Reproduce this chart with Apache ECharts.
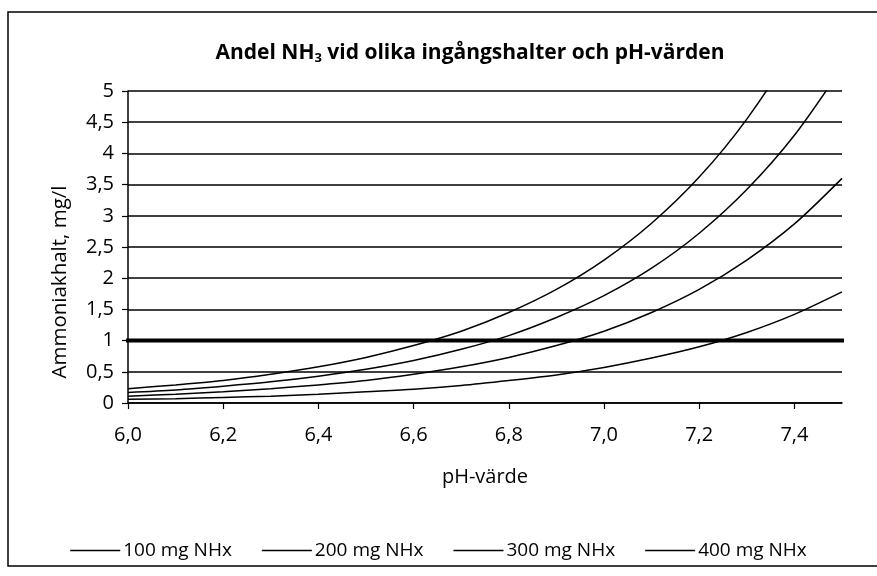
<!DOCTYPE html>
<html>
<head>
<meta charset="utf-8">
<script src="https://cdn.jsdelivr.net/npm/echarts@6/dist/echarts.min.js"></script>
<style>html,body{margin:0;padding:0;background:#fff}#c{width:877px;height:576px}</style>
</head>
<body>
<div id="c"></div>
<script>
const phValues = [6.0, 6.1, 6.2, 6.3, 6.4, 6.5, 6.6, 6.7, 6.8, 6.9, 7.0, 7.1, 7.2, 7.3, 7.4, 7.5];
const nh100 = [0.06, 0.07, 0.09, 0.11, 0.14, 0.18, 0.22, 0.28, 0.36, 0.45, 0.57, 0.72, 0.90, 1.13, 1.42, 1.78];
const nh200 = [0.11, 0.14, 0.18, 0.23, 0.29, 0.36, 0.46, 0.58, 0.73, 0.92, 1.15, 1.45, 1.82, 2.29, 2.87, 3.60];
const nh300 = [0.17, 0.21, 0.27, 0.34, 0.43, 0.54, 0.68, 0.86, 1.08, 1.37, 1.72, 2.16, 2.72, 3.42, 4.29, 5.38];
const nh400 = [0.23, 0.29, 0.36, 0.46, 0.58, 0.73, 0.92, 1.15, 1.45, 1.82, 2.29, 2.88, 3.62, 4.55, 5.72, 7.17];
const seriesNames = ['100 mg NHx', '200 mg NHx', '300 mg NHx', '400 mg NHx'];
const limitX = [5.985, 7.545];
const limitY = [1, 1];
const xTicks = [6.0, 6.2, 6.4, 6.6, 6.8, 7.0, 7.2, 7.4];

const FONT = 'Open Sans';
const fmt = (v, d) => (d == null ? String(+v.toFixed(2)) : v.toFixed(d)).replace('.', ',');
const pair = arr => phValues.map((x, i) => [x, arr[i]]);
const curves = [nh100, nh200, nh300, nh400];

const chart = echarts.init(document.getElementById('c'), null, {renderer: 'canvas'});
chart.setOption({
  backgroundColor: '#fff',
  animation: false,
  textStyle: {fontFamily: FONT, color: '#000'},
  graphic: [{
    type: 'rect', shape: {x: 8, y: 12, width: 880, height: 554},
    style: {fill: 'none', stroke: '#000', lineWidth: 1.5}, silent: true, z: -1
  }],
  title: {
    text: 'Andel NH{sub|3} vid olika ingångshalter och pH-värden',
    left: 465, top: 37, textAlign: 'center',
    textStyle: {
      fontFamily: FONT, fontWeight: 'bold', fontSize: 21, color: '#000',
      rich: {sub: {fontFamily: FONT, fontWeight: 'bold', fontSize: 13, verticalAlign: 'bottom', padding: [10, 0, 0, 0], color: '#000'}}
    }
  },
  legend: {
    show: true, type: 'plain', orient: 'horizontal', icon: 'rect',
    data: seriesNames, top: 536, left: 'center', itemWidth: 50, itemHeight: 1.5, itemGap: 30,
    textStyle: {fontFamily: FONT, fontSize: 19, color: '#000', padding: [0, 0, 0, -2]}
  },
  grid: {left: 128, right: 35, top: 91, bottom: 173, containLabel: false},
  xAxis: {
    type: 'value', min: 6.0, max: 7.5, interval: 0.2,
    name: 'pH-värde', nameLocation: 'middle', nameGap: 64,
    nameTextStyle: {fontFamily: FONT, fontSize: 20, color: '#000'},
    axisLine: {show: true, onZero: false, lineStyle: {color: '#000', width: 1.5}},
    axisTick: {show: true, length: 6, customValues: xTicks, lineStyle: {color: '#000', width: 1.2}},
    axisLabel: {customValues: xTicks, margin: 22, fontFamily: FONT, fontSize: 20, color: '#000', formatter: v => fmt(v, 1)},
    splitLine: {show: false}
  },
  yAxis: {
    type: 'value', min: 0, max: 5, interval: 0.5,
    name: 'Ammoniakhalt, mg/l', nameLocation: 'middle', nameGap: 57,
    nameTextStyle: {fontFamily: FONT, fontSize: 20.5, color: '#000', padding: [0, 70, 0, 0]},
    axisLine: {show: true, lineStyle: {color: '#000', width: 1.5}},
    axisTick: {show: true, length: 6, lineStyle: {color: '#000', width: 1.2}},
    axisLabel: {margin: 14, fontFamily: FONT, fontSize: 20, color: '#000', formatter: v => fmt(v)},
    splitLine: {show: true, lineStyle: {color: '#000', width: 1.5}}
  },
  series: curves.map((arr, i) => ({
    name: seriesNames[i], type: 'line', data: pair(arr), smooth: 0.3,
    symbol: 'none', showSymbol: false,
    lineStyle: {color: '#000', width: 1.5}, itemStyle: {color: '#000'}
  })).concat([{
    name: 'gräns', type: 'line', clip: false, symbol: 'none',
    data: limitX.map((x, i) => [x, limitY[i]]),
    lineStyle: {color: '#000', width: 4}, itemStyle: {color: '#000'}, z: 5
  }])
});
</script>
</body>
</html>
